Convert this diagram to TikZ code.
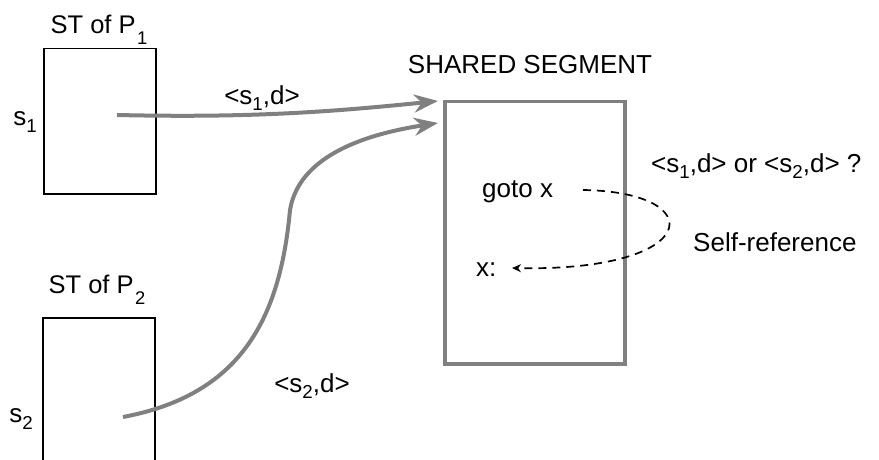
\documentclass[tikz,border=0pt]{standalone}
\usepackage{fontspec}
\setmainfont{Liberation Sans}
\usetikzlibrary{arrows.meta}
\newcommand\mysub[2][0.22em]{\raisebox{-#1}{\fontsize{0.72\dimexpr\fontdimen6\font\relax}{10}\selectfont #2}}
\begin{document}
\begin{tikzpicture}[x=1pt,y=-1pt,
  lbl/.style={font=\fontsize{26}{30}\selectfont, inner sep=0pt},
  stlbl/.style={font=\fontsize{25.5}{29}\selectfont, inner sep=0pt},
  stbox/.style={draw=black, line width=1.5pt},
  segbox/.style={draw=black!50, line width=3.5pt},
  bigarrow/.style={draw=black!50, line width=4pt, -{Stealth[length=24pt,width=18pt]}},
  dasharrow/.style={draw=black, line width=1.7pt, dash pattern=on 8pt off 6pt, -{Stealth[length=9pt,width=8pt]}}]
\useasboundingbox (0,0) rectangle (879,460);
\clip (0,0) rectangle (879,460);
% boxes
\node[stbox, minimum width=112pt, minimum height=145pt, anchor=north west, inner sep=0pt] (p1) at (43,48) {};
\node[stbox, minimum width=112pt, minimum height=160pt, anchor=north west, inner sep=0pt] (p2) at (42,317) {};
\node[segbox, minimum width=180pt, minimum height=262pt, anchor=north west, inner sep=0pt] (seg) at (443,100) {};
% labels
\node[stlbl] (t1) at (99,30) {ST of P\kern0.06em\mysub[0.45em]{1}};
\node[stlbl] (t2) at (97,290) {ST of P\kern0.06em\mysub[0.45em]{2}};
\node[lbl] (s1) at (25,122) {s\mysub[0.3em]{1}};
\node[lbl] (s2) at (21,419) {s\mysub[0.3em]{2}};
\node[lbl] (segt) at (530,65) {SHARED SEGMENT};
\node[lbl] (l1) at (262,98) {<s\mysub{1},d>};
\node[lbl] (l2) at (312,386) {<s\mysub{2},d>};
\node[lbl, anchor=west] (goto) at (482,192) {goto x};
\node[lbl, anchor=west] (x) at (476,270) {x:};
\node[lbl, anchor=west] (q) at (651,166) {<s\mysub{1},d> or <s\mysub{2},d> ?};
\node[lbl, anchor=west] (sr) at (693,242) {Self-reference};
% connector endpoints
\coordinate (a1s) at (117,115);
\coordinate (a1e) at (438,101);
\coordinate (a2s) at (123,417);
\coordinate (a2m) at (290,210);
\coordinate (a2e) at (438,123);
\coordinate (ds) at (583,190);
\coordinate (de) at (512,268);
\draw[bigarrow] (a1s) .. controls (250,118) and (330,112) .. (a1e);
\draw[bigarrow] (a2s) .. controls (240,395) and (280,320) .. (a2m) .. controls (300,150) and (380,132) .. (a2e);
\draw[dasharrow] (ds) .. controls (712,192) and (702,272) .. (de);
\end{tikzpicture}
\end{document}
